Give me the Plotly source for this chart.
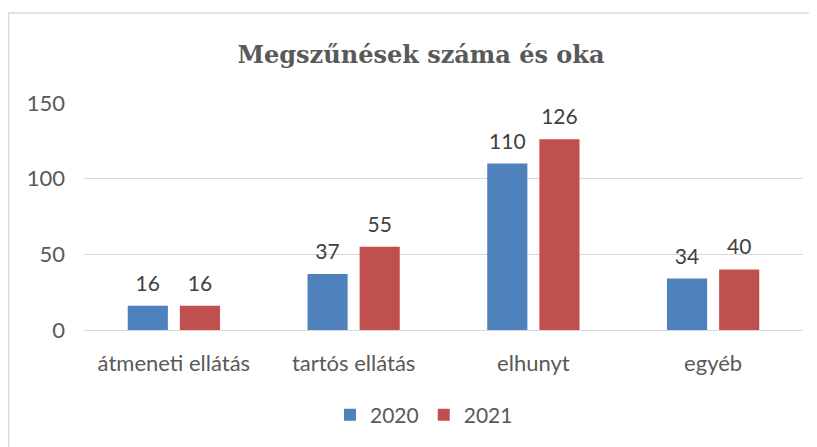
import plotly.graph_objects as go

categories = ["átmeneti ellátás", "tartós ellátás", "elhunyt", "egyéb"]
series_names = ["2020", "2021"]
values_2020 = [16, 37, 110, 34]
values_2021 = [16, 55, 126, 40]
y_ticks = [0, 50, 100, 150]
title_text = "Megszűnések száma és oka"

colors = ["#4F81BD", "#C0504D"]
# page body has 8px margin, so the figure is drawn slightly smaller
W, H = 809, 439
L, R, T, B = 76, 14, 95, 117
BARGAP = 0.42

fig = go.Figure()
for i, (name, vals, col) in enumerate(zip(series_names, [values_2020, values_2021], colors)):
    fig.add_trace(go.Bar(
        x=categories, y=vals, name=name,
        marker=dict(color=col, line=dict(width=0)),
        offsetgroup=str(i), hoverinfo="skip",
    ))
for i, (name, vals) in enumerate(zip(series_names, [values_2020, values_2021])):
    fig.add_trace(go.Scatter(
        x=categories, y=vals, name=name, mode="markers+text",
        text=[str(v) for v in vals], textposition="top center",
        marker=dict(size=14, opacity=0),
        textfont=dict(family="Lato, Open Sans, sans-serif", size=21, color="#404040"),
        offsetgroup=str(i), showlegend=False, cliponaxis=False, hoverinfo="skip",
    ))

pw = W - L - R
ph = H - T - B
fig.add_shape(type="path", xref="paper", yref="paper",
              path=f"M {(0.5-L)/pw} {-(B+5)/ph} L {(0.5-L)/pw} {1+(T-5)/ph} L {(W+5-L)/pw} {1+(T-5)/ph}",
              line=dict(color="#D9D9D9", width=1.5))

fig.update_layout(
    width=W, height=H,
    margin=dict(l=L, r=R, t=T, b=B, autoexpand=False),
    paper_bgcolor="white", plot_bgcolor="white",
    barmode="group", bargap=BARGAP, bargroupgap=0.23,
    scattermode="group", scattergap=BARGAP,
    title=dict(text=title_text, x=413 / W, xref="container", xanchor="center",
               y=1 - 47 / H, yanchor="middle",
               font=dict(family="DejaVu Serif, Liberation Serif, serif", size=24,
                         color="#595959", weight="bold")),
    font=dict(family="Lato, Open Sans, sans-serif", size=21, color="#595959"),
    xaxis=dict(showgrid=False, showline=False, ticks="", tickfont=dict(size=22, color="#595959"),
               ticklabelstandoff=18),
    yaxis=dict(range=[0, 150], tickvals=y_ticks, showgrid=True, gridcolor="#D9D9D9",
               gridwidth=1, zeroline=True, zerolinecolor="#D9D9D9", zerolinewidth=1,
               showline=False, ticks="", ticklen=0, tickfont=dict(size=22, color="#595959"),
               ticklabelstandoff=18),
    showlegend=True,
    legend=dict(orientation="h", x=(416 - L) / pw, xanchor="center", xref="paper",
                y=-(407 - (H - B)) / ph, yanchor="middle",
                font=dict(size=21, color="#595959"), itemwidth=30,
                traceorder="normal"),
)

fig.write_html("out.html")
